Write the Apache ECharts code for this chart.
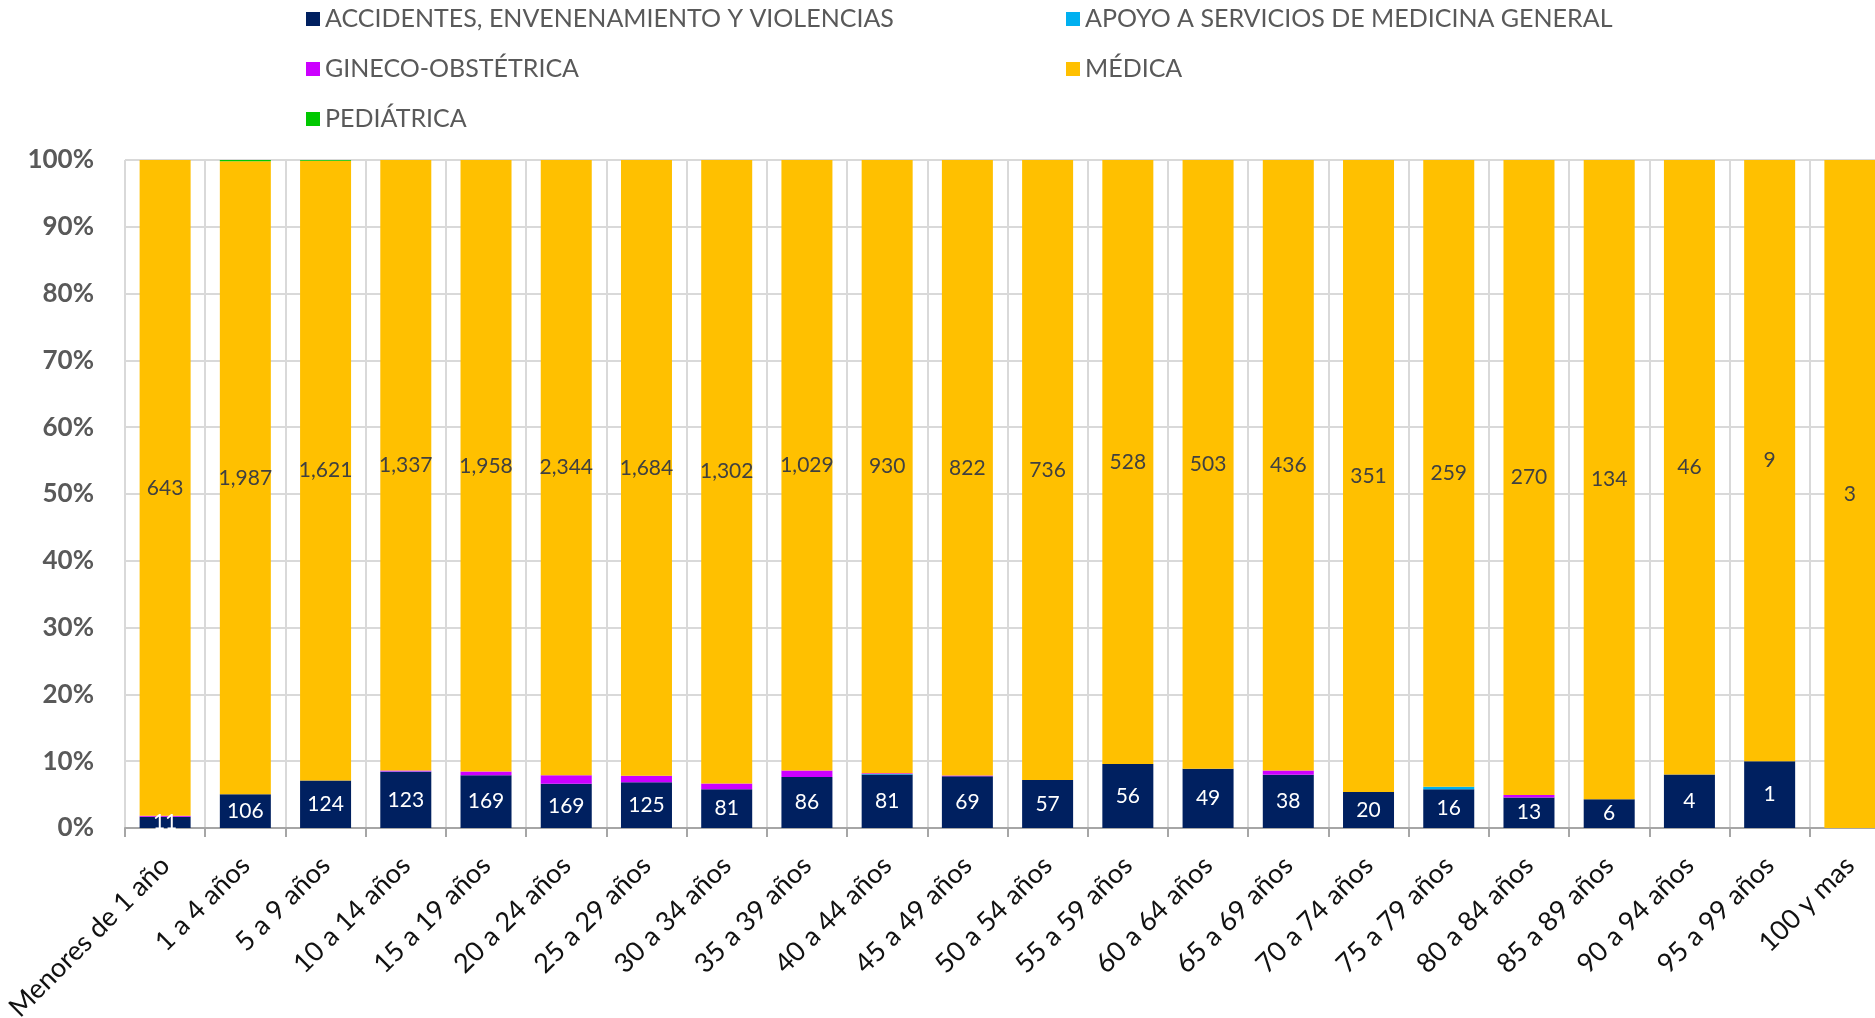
<!DOCTYPE html>
<html>
<head>
<meta charset="utf-8">
<script src="https://cdn.jsdelivr.net/npm/echarts@6/dist/echarts.min.js"></script>
<style>
html,body{margin:0;padding:0;background:#fff;}
#chart{width:1875px;height:1018px;}
</style>
</head>
<body>
<div id="chart"></div>
<script>
const categories = ['Menores de 1 año','1 a 4 años','5 a 9 años','10 a 14 años','15 a 19 años','20 a 24 años','25 a 29 años','30 a 34 años','35 a 39 años','40 a 44 años','45 a 49 años','50 a 54 años','55 a 59 años','60 a 64 años','65 a 69 años','70 a 74 años','75 a 79 años','80 a 84 años','85 a 89 años','90 a 94 años','95 a 99 años','100 y mas'];
const accidentes = [11,106,124,123,169,169,125,81,86,81,69,57,56,49,38,20,16,13,6,4,1,0];
const apoyo      = [0,0,0,1,0,0,0,0,0,1,0,0,0,0,0,0,1,0,0,0,0,0];
const gineco     = [1,0,0,2,12,32,18,12,11,1,1,0,0,0,3,0,0,1,0,0,0,0];
const medica     = [643,1987,1621,1337,1958,2344,1684,1302,1029,930,822,736,528,503,436,351,259,270,134,46,9,3];
const pediatrica = [0,4,2,0,0,0,0,0,0,0,0,0,0,0,0,0,0,0,0,0,0,0];
const yTicks = ['0%','10%','20%','30%','40%','50%','60%','70%','80%','90%','100%'];

const seriesDefs = [
  {name:'ACCIDENTES, ENVENENAMIENTO Y VIOLENCIAS', data:accidentes, color:'#002060', label:true, labelColor:'#ffffff'},
  {name:'APOYO A SERVICIOS DE MEDICINA GENERAL', data:apoyo, color:'#00B0F0', label:false},
  {name:'GINECO-OBSTÉTRICA', data:gineco, color:'#CC00FF', label:false},
  {name:'MÉDICA', data:medica, color:'#FFC000', label:true, labelColor:'#404040'},
  {name:'PEDIÁTRICA', data:pediatrica, color:'#00C800', label:false}
];
const totals = categories.map((c,i)=>seriesDefs.reduce((s,d)=>s+d.data[i],0));
const fmt = v => v.toLocaleString('en-US');
const FONT = 'Lato, "Open Sans", sans-serif';

const series = seriesDefs.map(d => ({
  name: d.name,
  type: 'bar',
  stack: 'total',
  barWidth: 51,
  itemStyle: {color: d.color},
  emphasis: {disabled: true},
  data: d.data.map((v,i)=> totals[i] ? v/totals[i]*100 : 0),
  label: {
    show: d.label,
    position: 'inside',
    color: d.labelColor,
    fontFamily: FONT,
    fontSize: 21,
    formatter: p => d.data[p.dataIndex] > 0 ? fmt(d.data[p.dataIndex]) : ''
  }
}));

const chart = echarts.init(document.getElementById('chart'));
const legendText = {color:'#595959', fontFamily: FONT, fontSize: 25, lineHeight: 26};
chart.setOption({
  animation: false,
  legend: [
    {orient:'vertical', left:301, top:1, itemWidth:14, itemHeight:14, itemGap:24, icon:'rect',
     textStyle: legendText, selectedMode:false,
     data:['ACCIDENTES, ENVENENAMIENTO Y VIOLENCIAS','GINECO-OBSTÉTRICA','PEDIÁTRICA']},
    {orient:'vertical', left:1061, top:1, itemWidth:14, itemHeight:14, itemGap:24, icon:'rect',
     textStyle: legendText, selectedMode:false,
     data:['APOYO A SERVICIOS DE MEDICINA GENERAL','MÉDICA']}
  ],
  grid: {left:125, top:160, width:1765, height:668, containLabel:false, outerBoundsMode:'none'},
  xAxis: {
    type:'category',
    data: categories,
    boundaryGap: true,
    axisLine: {show:true, lineStyle:{color:'#A6A6A6', width:2}},
    axisTick: {show:true, length:9, lineStyle:{color:'#A6A6A6', width:2}},
    splitLine: {show:true, lineStyle:{color:'#D9D9D9', width:2}},
    axisLabel: {rotate:45, interval:0, margin:33, color:'#111111', fontFamily:FONT, fontSize:27}
  },
  yAxis: {
    type:'value',
    min:0, max:100, interval:10,
    axisLine:{show:false},
    axisTick:{show:false},
    splitLine:{show:true, lineStyle:{color:'#D9D9D9', width:2}},
    axisLabel:{margin:31, color:'#595959', fontFamily:FONT, fontSize:26, fontWeight:'bold',
      formatter: v => yTicks[Math.round(v/10)]}
  },
  series: series
});
</script>
</body>
</html>
